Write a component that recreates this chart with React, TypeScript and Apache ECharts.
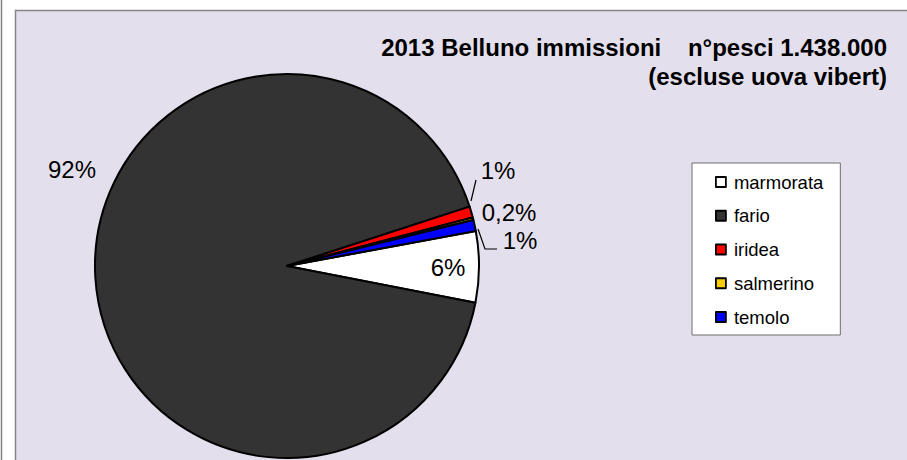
import React, { useEffect, useRef } from "react";
import * as echarts from "echarts";

const categories = ["marmorata", "fario", "iridea", "salmerino", "temolo"];
const fishCounts = [86000, 1322000, 13500, 3000, 13500];
const sliceColors = ["#FFFFFF", "#333333", "#FF0000", "#FFCC00", "#0000FF"];
const titleLines = ["2013 Belluno immissioni    n°pesci 1.438.000", "(escluse uova vibert)"];

const FONT = "'Liberation Sans', Arial, Helvetica, sans-serif";

// label anchor layout (centre of each percentage text) and leader lines
const labelAnchors: [number, number][] = [
  [448, 267],
  [72, 169],
  [498, 170],
  [509, 212],
  [520, 240],
];
const leaderLines: (number[][] | null)[] = [
  null,
  null,
  [[471, 201], [476, 180], [476, 180]],
  null,
  [[478, 229], [485, 249], [497, 249]],
];

export default function App() {
  const ref = useRef<HTMLDivElement>(null);
  useEffect(() => {
    if (!ref.current) return;
    const chart = echarts.init(ref.current, undefined, { renderer: "svg" });
    chart.setOption({
      animation: false,
      backgroundColor: "#FFFFFF",
      textStyle: { fontFamily: FONT },
      graphic: [
        {
          type: "line",
          z: -10,
          shape: { x1: 1.5, y1: 0, x2: 1.5, y2: 460 },
          style: { stroke: "#808080", lineWidth: 1.5 },
        },
        {
          type: "rect",
          z: -10,
          shape: { x: 15.5, y: 10.5, width: 1000, height: 600 },
          style: { fill: "#E4DFEC", stroke: "#868686", lineWidth: 1.5 },
        },
      ],
      title: titleLines.map((t, i) => ({
        text: t,
        right: 15,
        top: 28 + i * 29,
        padding: 5,
        textStyle: {
          fontFamily: FONT,
          fontSize: 24,
          fontWeight: "bold",
          color: "#000",
          lineHeight: 28,
        },
      })),
      legend: {
        orient: "vertical",
        left: 692,
        top: 163,
        data: categories,
        icon: "rect",
        itemWidth: 10,
        itemHeight: 10,
        itemGap: 13.75,
        padding: [9, 17, 8, 23],
        backgroundColor: "#FFFFFF",
        borderColor: "#6E6E6E",
        borderWidth: 1,
        borderRadius: 0,
        itemStyle: { borderColor: "#000", borderWidth: 1.8 },
        textStyle: {
          fontFamily: FONT,
          fontSize: 18.5,
          lineHeight: 20,
          color: "#000",
          padding: [0, 0, 0, 3],
        },
      },
      series: [
        {
          type: "pie",
          center: [287, 266],
          radius: 192,
          startAngle: 10.5,
          clockwise: true,
          avoidLabelOverlap: false,
          itemStyle: { borderColor: "#000", borderWidth: 2 },
          emphasis: { disabled: true },
          label: {
            show: true,
            position: "outside",
            fontFamily: FONT,
            fontSize: 24,
            color: "#000",
            formatter: (p: any) => {
              const v = p.percent;
              if (v >= 0.5) return Math.round(v) + "%";
              return v.toFixed(1).replace(".", ",") + "%";
            },
          },
          labelLine: { show: true, lineStyle: { color: "#000", width: 1.2 } },
          labelLayout: (params: any) => {
            const a = labelAnchors[params.dataIndex];
            const out: any = { x: a[0], y: a[1], align: "center", verticalAlign: "middle" };
            const l = leaderLines[params.dataIndex];
            if (l) out.labelLinePoints = l;
            return out;
          },
          data: categories.map((name, i) => ({
            name,
            value: fishCounts[i],
            itemStyle: { color: sliceColors[i] },
            labelLine: { show: leaderLines[i] !== null },
          })),
        },
      ],
    });
    return () => chart.dispose();
  }, []);
  return (
    <div
      ref={ref}
      style={{ position: "fixed", left: 0, top: 0, width: 907, height: 460 }}
    />
  );
}
